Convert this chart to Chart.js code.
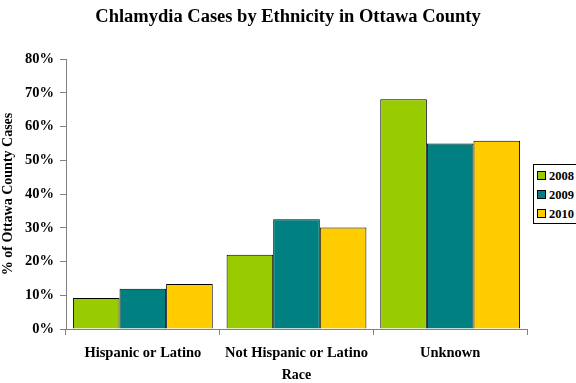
<!DOCTYPE html>
<html><head><meta charset="utf-8">
<script src="https://cdn.jsdelivr.net/npm/chart.js@4/dist/chart.umd.min.js"></script>
<style>
html,body{margin:0;padding:0;background:#fff;overflow:hidden;}
#wrap{position:relative;width:576px;height:383px;}
#title{position:absolute;left:0;top:6px;width:576px;text-align:center;font:bold 18.5px "Liberation Serif",serif;color:#000;}
#legend{position:absolute;left:533px;top:164px;width:60px;height:58px;border:1px solid #000;background:#fff;font:bold 12.5px "Liberation Serif",serif;}
#legend div{position:absolute;left:3px;height:14px;line-height:14px;white-space:nowrap;}
#legend span{display:inline-block;width:7px;height:7px;border:1px solid #000;margin-right:3px;vertical-align:0px;}
</style></head>
<body><div id="wrap">
<canvas id="c" width="576" height="383"></canvas>
<div id="title">Chlamydia Cases by Ethnicity in Ottawa County</div>
<div id="legend"></div>
</div>
<script>
const categories = ["Hispanic or Latino", "Not Hispanic or Latino", "Unknown"];
const seriesNames = ["2008", "2009", "2010"];
const values2008 = [9.2, 22.0, 68.1];
const values2009 = [11.9, 32.5, 55.0];
const values2010 = [13.3, 30.1, 55.8];
const colors = ["#99CC00", "#008080", "#FFCC00"];

const allValues = [values2008, values2009, values2010];
const lg = document.getElementById('legend');
seriesNames.forEach((n,i)=>{
  const d=document.createElement('div');
  d.style.top=(4+i*19)+'px';
  d.innerHTML='<span style="background:'+colors[i]+'"></span>'+n;
  lg.appendChild(d);
});

new Chart(document.getElementById('c'), {
  type: 'bar',
  data: {
    labels: categories,
    datasets: seriesNames.map((n,i)=>({
      label: n, data: allValues[i], backgroundColor: colors[i],
      borderColor: '#000', borderWidth: 1,
      categoryPercentage: 0.91, barPercentage: 1.0
    }))
  },
  options: {
    responsive: false, animation: false, devicePixelRatio: 1,
    layout: {padding: {top: 59, right: 49, left: 0, bottom: 0}},
    plugins: {legend: {display: false}, title: {display: false}, tooltip: {enabled: false}},
    scales: {
      x: {
        grid: {display: true, drawOnChartArea: false, tickLength: 6, color: '#808080', offset: true},
        border: {color: '#808080', width: 1},
        ticks: {color: '#000', font: {family: 'Liberation Serif', size: 14.5, weight: 'bold'}, padding: 10, maxRotation: 0},
        title: {display: true, text: 'Race', color: '#000', font: {family: 'Liberation Serif', size: 14, weight: 'bold'}, padding: {top: 7, bottom: -1}},
        afterFit: s => { s.height = 54; }
      },
      y: {
        min: 0, max: 80,
        grid: {display: true, drawOnChartArea: false, tickLength: 6, color: '#808080'},
        border: {color: '#808080', width: 1},
        ticks: {stepSize: 10, color: '#000', font: {family: 'Liberation Serif', size: 14.5, weight: 'bold'}, padding: 6, callback: v => v + '%'},
        title: {display: true, text: '% of Ottawa County Cases', color: '#000', font: {family: 'Liberation Serif', size: 14, weight: 'bold'}, padding: {top: 0, bottom: 0}},
        afterFit: s => { s.width = 66; }
      }
    }
  }
});
</script>
</body></html>
